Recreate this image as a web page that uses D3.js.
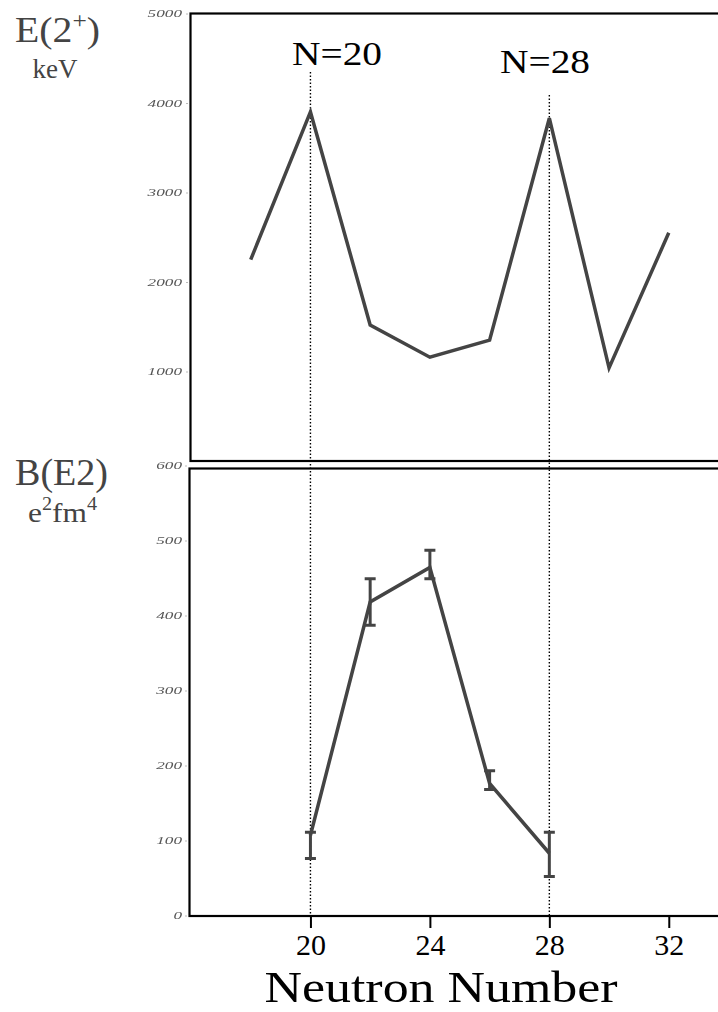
<!DOCTYPE html>
<html>
<head>
<meta charset="utf-8">
<script src="https://cdn.jsdelivr.net/npm/d3@7"></script>
<style>
  html, body { margin: 0; padding: 0; background: #fff; }
  svg { display: block; }
  svg text { font-family: "Liberation Serif", "Times New Roman", Times, "DejaVu Serif", serif; }
</style>
</head>
<body>
<script>
// Calcium isotopes: first 2+ energy and B(E2) versus neutron number
const neutronE2 = [18, 20, 22, 24, 26, 28, 30, 32];
const energyE2 = [2250, 3900, 1520, 1160, 1350, 3830, 1040, 2550];

const neutronBE2 = [20, 22, 24, 26, 28];
const valueBE2 = [107, 418, 464, 176, 83];
const errLowBE2 = [76, 387, 449, 168, 52];
const errHighBE2 = [111, 449, 487, 193, 111];

const xTicks = [20, 24, 28, 32];
const topTicks = [1000, 2000, 3000, 4000, 5000];
const bottomTicks = [0, 100, 200, 300, 400, 500, 600];
const shellClosures = [20, 28];
const shellLabels = ["N=20", "N=28"];

const W = 718, H = 1012;
const svg = d3.select("body").append("svg").attr("width", W).attr("height", H);

const defs = svg.append("defs");
defs.append("filter").attr("id", "soft")
  .append("feGaussianBlur").attr("stdDeviation", 0.5);

const x = d3.scaleLinear().domain([16, 34]).range([191, 728.5]);
const yTop = d3.scaleLinear().domain([0, 5000]).range([461, 13.5]);
const yBot = d3.scaleLinear().domain([0, 600]).range([915.5, 465.5]);

const lineColor = "#444";

// panel frames (right edge runs past the page)
svg.append("rect").attr("x", 190.5).attr("y", 13.5).attr("width", 560).attr("height", 447.5)
  .attr("fill", "none").attr("stroke", "#000").attr("stroke-width", 2.2);
svg.append("rect").attr("x", 189.5).attr("y", 468.5).attr("width", 560).attr("height", 447.5)
  .attr("fill", "none").attr("stroke", "#000").attr("stroke-width", 2.2);

// shell-closure guides
const guideTop = [72, 95];
shellClosures.forEach((n, i) => {
  svg.append("line")
    .attr("x1", x(n)).attr("x2", x(n))
    .attr("y1", guideTop[i]).attr("y2", 915)
    .attr("stroke", "#000").attr("stroke-width", 1.4)
    .attr("stroke-dasharray", "1.5,2");
});
svg.append("text").attr("x", 292).attr("y", 65).text(shellLabels[0])
  .attr("font-size", 34).attr("fill", "#000")
  .attr("textLength", 90).attr("lengthAdjust", "spacingAndGlyphs");
svg.append("text").attr("x", 500).attr("y", 73).text(shellLabels[1])
  .attr("font-size", 34).attr("fill", "#000")
  .attr("textLength", 90).attr("lengthAdjust", "spacingAndGlyphs");

// small left axes: tiny, wide, soft italic numerals
const tickStyle = g => {
  g.attr("font-family", null);
  g.select(".domain").remove();
  g.selectAll(".tick line").attr("stroke", "#bbb").attr("stroke-width", 1);
  g.selectAll(".tick text")
    .attr("font-size", 10).attr("font-style", "italic")
    .attr("fill", "#555").attr("filter", "url(#soft)")
    .attr("textLength", d => String(d).length * 8.6)
    .attr("lengthAdjust", "spacingAndGlyphs");
};
svg.append("g").attr("transform", "translate(188,0)")
  .call(d3.axisLeft(yTop).tickValues(topTicks).tickSize(2).tickPadding(4).tickFormat(d3.format("d")))
  .call(tickStyle);
svg.append("g").attr("transform", "translate(187,0)")
  .call(d3.axisLeft(yBot).tickValues(bottomTicks).tickSize(2).tickPadding(3).tickFormat(d3.format("d")))
  .call(tickStyle);

// bottom neutron-number axis
const xAxis = svg.append("g").attr("transform", "translate(0,916)")
  .call(d3.axisBottom(x).tickValues(xTicks).tickSize(12).tickPadding(4).tickFormat(d3.format("d")));
xAxis.attr("font-family", null);
xAxis.select(".domain").remove();
xAxis.selectAll(".tick line").attr("stroke", "#000").attr("stroke-width", 2);
xAxis.selectAll(".tick text").attr("font-size", 30).attr("fill", "#000")
  .attr("dy", "0.78em");

svg.append("text").attr("x", 441).attr("y", 1002).attr("text-anchor", "middle")
  .attr("font-size", 45).attr("fill", "#000").text("Neutron Number")
  .attr("textLength", 353).attr("lengthAdjust", "spacingAndGlyphs");

// E(2+) curve
const topLine = d3.line().x((d, i) => x(neutronE2[i])).y(d => yTop(d));
svg.append("path").datum(energyE2).attr("d", topLine)
  .attr("fill", "none").attr("stroke", lineColor).attr("stroke-width", 3.5)
  .attr("stroke-linejoin", "miter");

// B(E2) curve with error bars
const botLine = d3.line().x((d, i) => x(neutronBE2[i])).y(d => yBot(d));
svg.append("path").datum(valueBE2).attr("d", botLine)
  .attr("fill", "none").attr("stroke", lineColor).attr("stroke-width", 3.5)
  .attr("stroke-linejoin", "miter");

const eb = svg.append("g").attr("stroke", lineColor).attr("stroke-width", 3);
neutronBE2.forEach((n, i) => {
  const cx = x(n);
  eb.append("line").attr("x1", cx).attr("x2", cx)
    .attr("y1", yBot(errLowBE2[i])).attr("y2", yBot(errHighBE2[i]));
  [errLowBE2[i], errHighBE2[i]].forEach(v => {
    eb.append("line").attr("x1", cx - 5.5).attr("x2", cx + 5.5)
      .attr("y1", yBot(v)).attr("y2", yBot(v));
  });
});

// panel quantity labels
const lab1 = svg.append("text").attr("x", 15).attr("y", 42)
  .attr("font-size", 36).attr("fill", "#444");
lab1.append("tspan").text("E(2");
lab1.append("tspan").text("+").attr("font-size", 23).attr("dy", -14);
lab1.append("tspan").text(")").attr("dy", 14);
lab1.attr("textLength", 85).attr("lengthAdjust", "spacingAndGlyphs");

svg.append("text").attr("x", 55).attr("y", 78).attr("text-anchor", "middle")
  .attr("font-size", 27).attr("fill", "#444").text("keV");

svg.append("text").attr("x", 15).attr("y", 485)
  .attr("font-size", 37).attr("fill", "#444").text("B(E2)")
  .attr("textLength", 93).attr("lengthAdjust", "spacingAndGlyphs");

const lab2 = svg.append("text").attr("x", 28).attr("y", 522)
  .attr("font-size", 28).attr("fill", "#444");
lab2.append("tspan").text("e");
lab2.append("tspan").text("2").attr("font-size", 18).attr("dy", -12);
lab2.append("tspan").text("fm").attr("dy", 12);
lab2.append("tspan").text("4").attr("font-size", 18).attr("dy", -12);
lab2.attr("textLength", 69).attr("lengthAdjust", "spacingAndGlyphs");
</script>
</body>
</html>
